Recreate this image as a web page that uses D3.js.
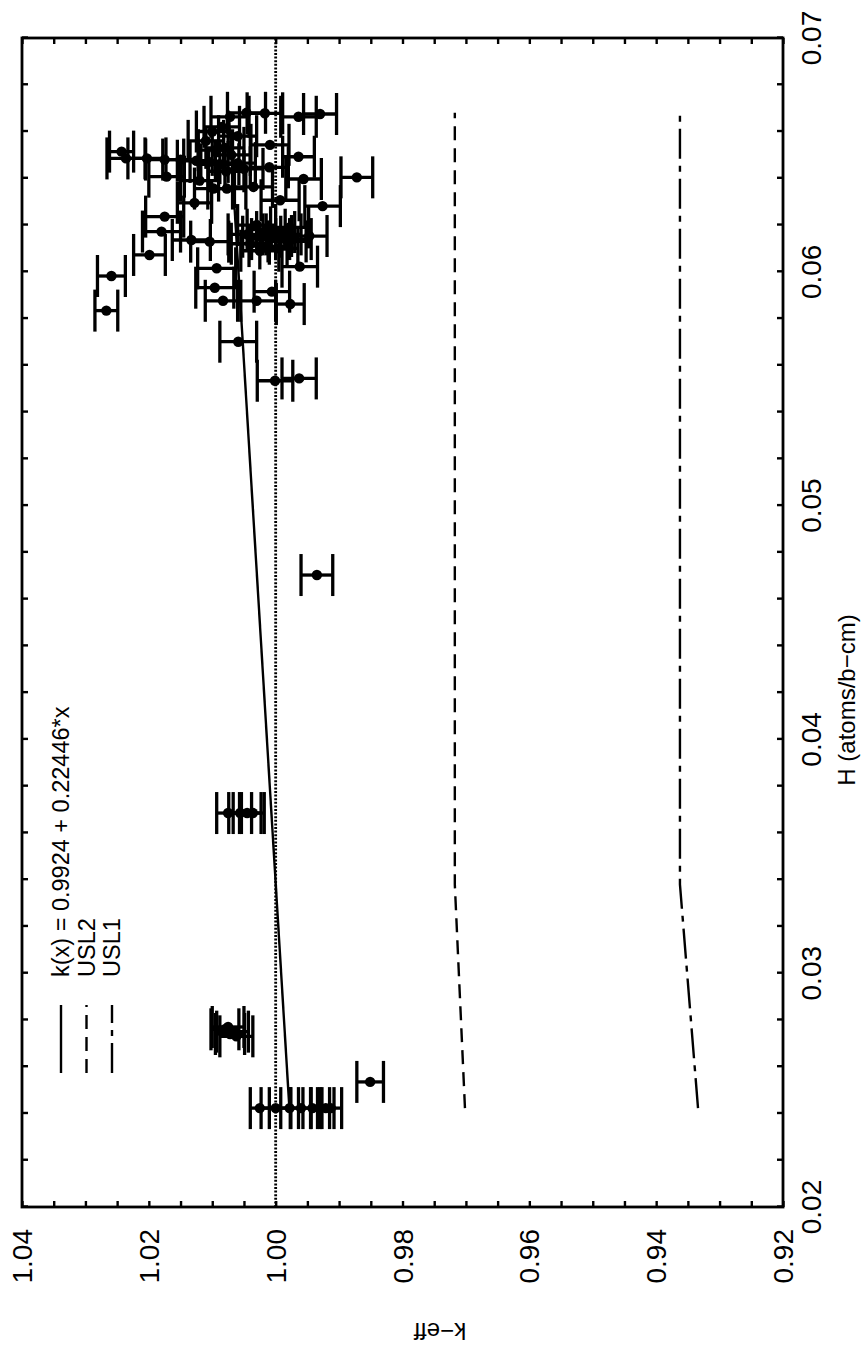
<!DOCTYPE html>
<html>
<head>
<meta charset="utf-8">
<script src="https://cdn.jsdelivr.net/npm/d3@7"></script>
<style>
  html, body { margin: 0; padding: 0; background: #fff; }
  svg { display: block; }
  text { font-family: "Liberation Sans", Arial, Helvetica, sans-serif; fill: #000; }
</style>
</head>
<body>
<svg id="chart" width="861" height="1352"></svg>
<script>
// Benchmark experiments: hydrogen density H (atoms/b-cm), calculated k-eff and 1-sigma uncertainty
const hValues = [
  0.06663, 0.06675, 0.06678, 0.06680, 0.06663, 0.06620, 0.06600, 0.06580, 0.06560, 0.06543,
  0.06530, 0.06520, 0.06514, 0.06500, 0.06492, 0.06485, 0.06485, 0.06480, 0.06480, 0.06475,
  0.06470, 0.06465, 0.06460, 0.06447, 0.06440, 0.06430, 0.06407, 0.06404, 0.06397, 0.06390,
  0.06363, 0.06356, 0.06356, 0.06306, 0.06295, 0.06281, 0.06236, 0.06172, 0.06153, 0.06136,
  0.06129, 0.06200, 0.06180, 0.06170, 0.06160, 0.06150, 0.06140, 0.06130, 0.06120, 0.06110,
  0.06100, 0.06190, 0.06160, 0.06140, 0.06090, 0.06072, 0.06022, 0.06015, 0.05982, 0.05932,
  0.05915, 0.05876, 0.05876, 0.05862, 0.05834, 0.05701, 0.05544, 0.05534, 0.04703,
  0.03685, 0.03685, 0.03685, 0.03685,
  0.02770, 0.02750, 0.02740, 0.02730, 0.02760,
  0.02535,
  0.02423, 0.02423, 0.02423, 0.02423, 0.02423, 0.02423, 0.02423, 0.02423
];
const kValues = [
  0.9964, 0.9930, 1.0017, 1.0046, 1.0072, 1.0085, 1.0100, 1.0060, 1.0110, 1.0009,
  1.0080, 1.0095, 1.0243, 1.0070, 0.9964, 1.0236, 1.0203, 1.0175, 1.0150, 1.0125,
  1.0105, 1.0060, 1.0088, 1.0010, 1.0050, 1.0078, 1.0172, 0.9872, 0.9956, 1.0120,
  1.0035, 1.0098, 1.0077, 0.9993, 1.0128, 0.9926, 1.0175, 1.0180, 0.9947, 1.0133,
  1.0104, 1.0030, 1.0015, 1.0000, 0.9990, 1.0022, 1.0008, 0.9982, 1.0040, 1.0012,
  0.9995, 0.9978, 1.0045, 0.9972, 1.0025, 1.0199, 0.9962, 1.0093, 1.0259, 1.0096,
  1.0006, 1.0083, 1.0030, 0.9977, 1.0267, 1.0059, 0.9963, 1.0001, 0.9935,
  1.0075, 1.0056, 1.0036, 1.0045,
  1.0075, 1.0068, 1.0072, 1.0062, 1.0080,
  0.9851,
  1.0025, 1.0000, 0.9978, 0.9960, 0.9942, 0.9930, 0.9921, 0.9913
];
const kSigma = [
  0.0028, 0.0026, 0.0028, 0.0030, 0.0030, 0.0028, 0.0025, 0.0030, 0.0028, 0.0030,
  0.0030, 0.0027, 0.0019, 0.0030, 0.0025, 0.0030, 0.0030, 0.0030, 0.0028, 0.0030,
  0.0030, 0.0028, 0.0030, 0.0030, 0.0030, 0.0028, 0.0028, 0.0025, 0.0028, 0.0030,
  0.0030, 0.0030, 0.0030, 0.0030, 0.0027, 0.0028, 0.0030, 0.0030, 0.0028, 0.0030,
  0.0030, 0.0030, 0.0030, 0.0030, 0.0030, 0.0030, 0.0030, 0.0030, 0.0030, 0.0030,
  0.0030, 0.0030, 0.0030, 0.0028, 0.0030, 0.0025, 0.0028, 0.0030, 0.0022, 0.0030,
  0.0028, 0.0028, 0.0030, 0.0022, 0.0018, 0.0029, 0.0027, 0.0028, 0.0025,
  0.0018, 0.0018, 0.0018, 0.0022,
  0.0025, 0.0025, 0.0023, 0.0026, 0.0022,
  0.0021,
  0.0015, 0.0023, 0.0014, 0.0016, 0.0015, 0.0015, 0.0013, 0.0017
];

// Linear trend k(x) = a + b*x
const fitA = 0.9924;
const fitB = 0.22446;
const fitLabel = "k(x) = 0.9924 + 0.22446*x";

// Upper subcritical limits
const usl2H = [0.02423, 0.03380, 0.06680];
const usl2K = [0.97015, 0.97175, 0.97175];
const usl1H = [0.02423, 0.03380, 0.06680];
const usl1K = [0.93340, 0.93625, 0.93625];

// Axes
const hDomain = [0.02, 0.07];
const kDomain = [0.92, 1.04];
const hTickLabels = [0.02, 0.03, 0.04, 0.05, 0.06, 0.07];
const kTickLabels = [1.04, 1.02, 1.00, 0.98, 0.96, 0.94, 0.92];
const hTitle = "H (atoms/b\u2212cm)";
const kTitle = "k\u2212eff";

const legendNames = [fitLabel, "USL2", "USL1"];

// The plot is laid out in landscape and turned a quarter turn counter-clockwise.
const left = 22, bottom = 1207, W = 1169, Hh = 761;

const svg = d3.select("#chart");
const g = svg.append("g").attr("transform", `translate(${left},${bottom}) rotate(-90)`);

const x = d3.scaleLinear().domain(hDomain).range([0, W]);
const y = d3.scaleLinear().domain(kDomain).range([Hh, 0]);

const points = hValues.map((h, i) => ({ h, k: kValues[i], s: kSigma[i] }));

const dashUSL2 = "14,8";
const dashUSL1 = "30,7,6,7";

// Reference line k = 1
g.append("line")
  .attr("x1", x(hDomain[0])).attr("x2", x(hDomain[1]))
  .attr("y1", y(1)).attr("y2", y(1))
  .attr("stroke", "#000").attr("stroke-width", 2.8)
  .attr("stroke-dasharray", "2,1.6");

// Trend line over the data range
const hMin = d3.min(hValues), hMax = d3.max(hValues);
const line = d3.line().x(d => x(d[0])).y(d => y(d[1]));
g.append("path")
  .datum([[hMin, fitA + fitB * hMin], [hMax, fitA + fitB * hMax]])
  .attr("d", line).attr("fill", "none")
  .attr("stroke", "#000").attr("stroke-width", 2.4);

g.append("path")
  .datum(usl2H.map((h, i) => [h, usl2K[i]]))
  .attr("d", line).attr("fill", "none")
  .attr("stroke", "#000").attr("stroke-width", 2.4)
  .attr("stroke-dasharray", dashUSL2);

g.append("path")
  .datum(usl1H.map((h, i) => [h, usl1K[i]]))
  .attr("d", line).attr("fill", "none")
  .attr("stroke", "#000").attr("stroke-width", 2.4)
  .attr("stroke-dasharray", dashUSL1);

// Error bars and points
const cap = 21;
const eb = g.append("g").attr("stroke", "#000").attr("stroke-width", 3.3);
points.forEach(p => {
  const cx = x(p.h), y0 = y(p.k - p.s), y1 = y(p.k + p.s);
  eb.append("line").attr("x1", cx).attr("x2", cx).attr("y1", y0).attr("y2", y1);
  eb.append("line").attr("x1", cx - cap).attr("x2", cx + cap).attr("y1", y0).attr("y2", y0);
  eb.append("line").attr("x1", cx - cap).attr("x2", cx + cap).attr("y1", y1).attr("y2", y1);
});
g.append("g").selectAll("circle").data(points).join("circle")
  .attr("cx", d => x(d.h)).attr("cy", d => y(d.k)).attr("r", 5.2).attr("fill", "#000");

// Frame with inward ticks on all sides
const hMinor = d3.range(0, 26).map(i => 0.02 + i * 0.002);
const kMinor = d3.range(0, 25).map(i => 0.92 + i * 0.005);
const tickLen = 6;
const axStyle = sel => {
  sel.select(".domain").remove();
  sel.selectAll("line").attr("stroke", "#000").attr("stroke-width", 2.4);
};
g.append("g").attr("transform", `translate(0,${Hh})`)
  .call(d3.axisBottom(x).tickValues(hMinor).tickSize(-tickLen).tickFormat("")).call(axStyle);
g.append("g")
  .call(d3.axisTop(x).tickValues(hMinor).tickSize(-tickLen).tickFormat("")).call(axStyle);
g.append("g")
  .call(d3.axisLeft(y).tickValues(kMinor).tickSize(-tickLen).tickFormat("")).call(axStyle);
g.append("g").attr("transform", `translate(${W},0)`)
  .call(d3.axisRight(y).tickValues(kMinor).tickSize(-tickLen).tickFormat("")).call(axStyle);
g.append("rect").attr("x", 0).attr("y", 0).attr("width", W).attr("height", Hh)
  .attr("fill", "none").attr("stroke", "#000").attr("stroke-width", 2.8);

// Tick labels
const fmt = d3.format(".2f");
g.append("g").selectAll("text").data(hTickLabels).join("text")
  .attr("x", d => x(d)).attr("y", Hh + 38)
  .attr("text-anchor", "middle").attr("font-size", 28)
  .text(d => fmt(d));
g.append("g").selectAll("text").data(kTickLabels).join("text")
  .attr("x", -22).attr("y", d => y(d) + 10)
  .attr("text-anchor", "end").attr("font-size", 28)
  .text(d => fmt(d));

// Axis titles
g.append("text").attr("x", 1207 - 700).attr("y", Hh + 72)
  .attr("text-anchor", "middle").attr("font-size", 24).text(hTitle);
g.append("text")
  .attr("transform", `translate(-116,${440 - left}) rotate(-90)`)
  .attr("text-anchor", "middle").attr("font-size", 24).text(kTitle);

// Legend
const legend = g.append("g").attr("transform", "translate(134,39)");
const dashes = [null, dashUSL2, dashUSL1];
legendNames.forEach((name, i) => {
  const row = legend.append("g").attr("transform", `translate(0,${i * 25.5})`);
  row.append("line").attr("x1", 0).attr("x2", 68).attr("y1", 0).attr("y2", 0)
    .attr("stroke", "#000").attr("stroke-width", 2.4)
    .attr("stroke-dasharray", dashes[i]);
  row.append("text").attr("x", 96).attr("y", 8).attr("font-size", 23.5).text(name);
});
</script>
</body>
</html>
